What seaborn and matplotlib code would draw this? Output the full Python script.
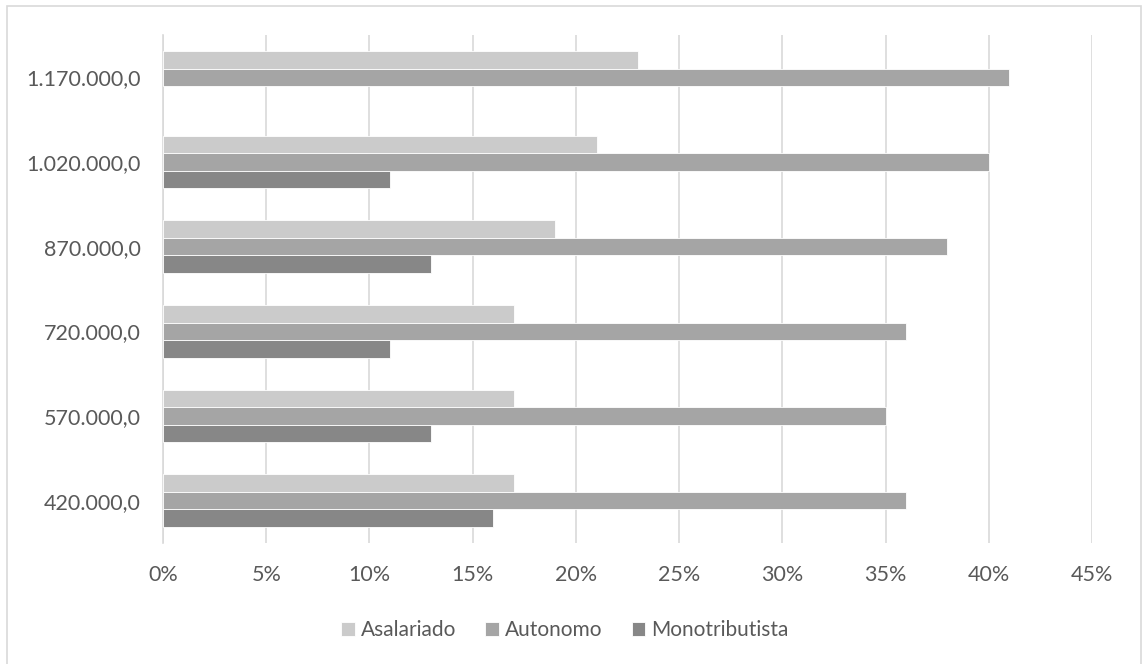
import numpy as np
import pandas as pd
import matplotlib
matplotlib.use("Agg")
import matplotlib.pyplot as plt
import seaborn as sns
from matplotlib.patches import Rectangle
from matplotlib.ticker import PercentFormatter

categories = ["1.170.000,0", "1.020.000,0", "870.000,0", "720.000,0", "570.000,0", "420.000,0"]
asalariado = [23, 21, 19, 17, 17, 17]
autonomo = [41, 40, 38, 36, 35, 36]
monotributista = [np.nan, 11, 13, 11, 13, 16]
series_names = ["Asalariado", "Autonomo", "Monotributista"]
colors = ["#CBCBCB", "#A5A5A5", "#878787"]
x_ticks = [0, 5, 10, 15, 20, 25, 30, 35, 40, 45]

rows = []
for name, vals in zip(series_names, [asalariado, autonomo, monotributista]):
    for c, v in zip(categories, vals):
        rows.append({"cat": c, "serie": name, "val": v})
df = pd.DataFrame(rows)

sns.set_theme(style="white")
plt.rcParams["font.family"] = ["Lato", "DejaVu Sans"]

fig = plt.figure(figsize=(11.44, 6.64), dpi=100)
ax = fig.add_axes([163/1144, 1-543/664, (1092-163)/1144, (543-35)/664])

sns.barplot(data=df, y="cat", x="val", hue="serie", order=categories,
            hue_order=series_names, palette=colors, orient="h", width=0.62,
            gap=0, edgecolor="white", linewidth=0.6, ax=ax, zorder=3)

ax.set_xlim(0, 45)
ax.set_xticks(x_ticks)
ax.xaxis.set_major_formatter(PercentFormatter(decimals=0))
ax.grid(axis="x", color="#D9D9D9", linewidth=1.2, zorder=0)
ax.set_axisbelow(True)
for s in ["top", "right", "bottom"]:
    ax.spines[s].set_visible(False)
ax.spines["left"].set_color("#D9D9D9")
ax.spines["left"].set_linewidth(1.2)
ax.set_xlabel("")
ax.set_ylabel("")
ax.tick_params(axis="both", length=0, labelsize=15.5, labelcolor="#595959")
ax.tick_params(axis="x", pad=16)
ax.tick_params(axis="y", pad=16)

handles, labels = ax.get_legend_handles_labels()
ax.legend(handles, labels, loc="center", bbox_to_anchor=(565/1144, 1-630/664),
          bbox_transform=fig.transFigure, ncol=3, frameon=False,
          fontsize=15, handlelength=0.65, handleheight=0.65, handletextpad=0.3,
          columnspacing=1.4, labelcolor="#595959")

fig.patches.append(Rectangle((7/1144, -0.01), (1141-7)/1144, 1-6/664+0.01,
                             transform=fig.transFigure, fill=False,
                             edgecolor="#D9D9D9", linewidth=1.2))

fig.savefig("out.png", dpi=100, facecolor="white")
